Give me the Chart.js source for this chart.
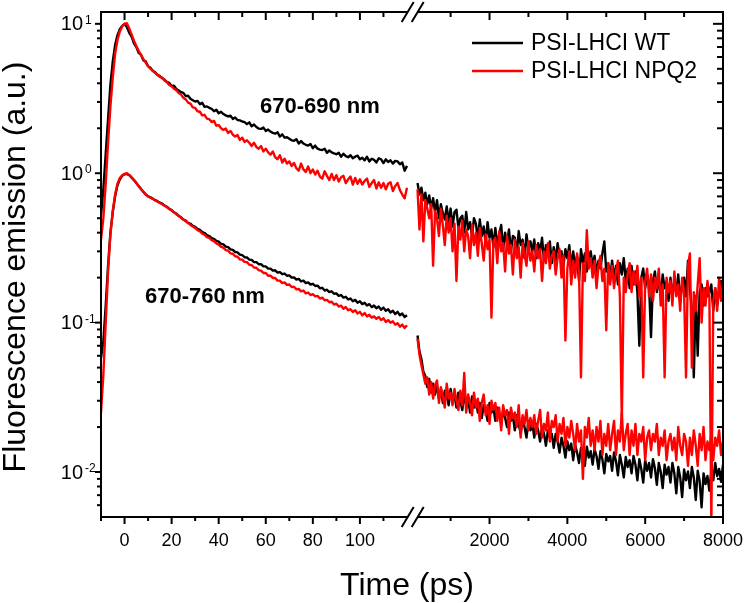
<!DOCTYPE html>
<html>
<head>
<meta charset="utf-8">
<script src="https://cdn.jsdelivr.net/npm/chart.js@4.4.0/dist/chart.umd.min.js"></script>
<style>
  html, body { margin: 0; padding: 0; background: #fff; }
  #wrap { width: 745px; height: 603px; }
</style>
</head>
<body>
<div id="wrap"><canvas id="decay" width="745" height="603"></canvas></div>
<script>
// ---- data ----
const seriesNames = ['PSI-LHCI WT', 'PSI-LHCI NPQ2'];
const bandLabels = ['670-690 nm', '670-760 nm'];

// early window (ps)
const timeLeft = [-10,-9,-8,-7,-6,-5,-4,-3,-2,-1,
  0,1,2,3,4,5,6,7,8,9,
  10,11,12,13,14,15,16,17,18,19,
  20,21,22,23,24,25,26,27,28,29,
  30,31,32,33,34,35,36,37,38,39,
  40,41,42,43,44,45,46,47,48,49,
  50,51,52,53,54,55,56,57,58,59,
  60,61,62,63,64,65,66,67,68,69,
  70,71,72,73,74,75,76,77,78,79,
  80,81,82,83,84,85,86,87,88,89,
  90,91,92,93,94,95,96,97,98,99,
  100,101,102,103,104,105,106,107,108,109,
  110,111,112,113,114,115,116,117,118,119,120];

// late window (ps)
const timeRight = [150,200,250,300,350,400,450,500,550,600,
  650,700,750,800,850,900,950,1000,1050,1100,
  1150,1200,1250,1300,1350,1400,1450,1500,1550,1600,
  1650,1700,1750,1800,1850,1900,1950,2000,2050,2100,
  2150,2200,2250,2300,2350,2400,2450,2500,2550,2600,
  2650,2700,2750,2800,2850,2900,2950,3000,3050,3100,
  3150,3200,3250,3300,3350,3400,3450,3500,3550,3600,
  3650,3700,3750,3800,3850,3900,3950,4000,4050,4100,
  4150,4200,4250,4300,4350,4400,4450,4500,4550,4600,
  4650,4700,4750,4800,4850,4900,4950,5000,5050,5100,
  5150,5200,5250,5300,5350,5400,5450,5500,5550,5600,
  5650,5700,5750,5800,5850,5900,5950,6000,6050,6100,
  6150,6200,6250,6300,6350,6400,6450,6500,6550,6600,
  6650,6700,6750,6800,6850,6900,6950,7000,7050,7100,
  7150,7200,7250,7300,7350,7400,7450,7500,7550,7600,
  7650,7700,7750,7800,7850,7900,7950,8000];

// 670-690 nm
const wtShortLeft = [0.52,0.78,1.35,2.3,3.9,5.6,7.2,8.4,9.2,9.7,
  10.0,9.5,8.7,8.2,7.4,7.0,6.4,6.2,5.7,5.6,
  5.2,5.08,4.84,4.74,4.55,4.47,4.34,4.22,4.08,4.02,
  3.84,3.85,3.66,3.58,3.49,3.45,3.28,3.3,3.15,3.08,
  3.02,3.05,2.9,2.96,2.78,2.8,2.74,2.7,2.6,2.66,
  2.52,2.58,2.49,2.44,2.4,2.43,2.31,2.36,2.27,2.26,
  2.22,2.2,2.13,2.19,2.06,2.12,2.04,1.99,1.98,2.02,
  1.92,1.96,1.9,1.86,1.84,1.88,1.76,1.82,1.73,1.74,
  1.7,1.66,1.65,1.69,1.58,1.64,1.58,1.55,1.53,1.57,
  1.47,1.53,1.46,1.44,1.43,1.46,1.37,1.42,1.38,1.36,
  1.34,1.37,1.29,1.35,1.3,1.28,1.32,1.26,1.29,1.31,
  1.24,1.27,1.22,1.29,1.2,1.25,1.23,1.18,1.26,1.24,
  1.17,1.24,1.19,1.22,1.16,1.21,1.2,1.15,1.18,1.04,1.12];
const npqShortLeft = [0.36,0.5,0.85,1.6,2.8,4.4,6.3,7.8,8.9,9.6,
  10.0,10.1,9.3,8.5,7.7,7.1,6.6,6.2,5.8,5.5,
  5.2,5.0,4.86,4.68,4.56,4.42,4.35,4.18,4.07,3.9,
  3.82,3.68,3.6,3.44,3.36,3.2,3.12,2.97,2.92,2.76,
  2.74,2.6,2.58,2.44,2.46,2.32,2.3,2.2,2.24,2.08,
  2.1,2.0,1.95,1.99,1.86,1.92,1.81,1.76,1.8,1.67,
  1.73,1.62,1.66,1.6,1.52,1.6,1.5,1.46,1.52,1.4,
  1.46,1.38,1.33,1.4,1.28,1.24,1.32,1.18,1.25,1.16,
  1.2,1.12,1.17,1.08,1.04,1.16,1.06,1.02,1.11,1.0,
  1.06,0.98,1.04,0.95,0.92,1.03,0.96,0.9,0.99,0.9,
  0.97,0.88,0.94,0.96,0.86,0.91,0.95,0.84,0.93,0.85,
  0.91,0.84,0.89,0.92,0.81,0.86,0.9,0.79,0.87,0.8,
  0.86,0.78,0.85,0.87,0.76,0.82,0.86,0.77,0.72,0.68,0.8];
const wtShortRight = [0.86,0.72,0.8,0.66,0.74,0.62,0.71,0.58,0.68,0.55,
  0.66,0.5,0.62,0.54,0.49,0.6,0.47,0.58,0.44,0.55,
  0.57,0.43,0.5,0.52,0.4,0.55,0.42,0.47,0.38,0.5,
  0.46,0.36,0.49,0.38,0.44,0.34,0.47,0.37,0.42,0.32,
  0.43,0.33,0.39,0.45,0.31,0.4,0.34,0.42,0.3,0.38,
  0.37,0.29,0.41,0.33,0.36,0.27,0.39,0.31,0.35,0.3,
  0.36,0.27,0.34,0.3,0.37,0.26,0.33,0.29,0.35,0.25,
  0.32,0.26,0.34,0.28,0.3,0.24,0.31,0.27,0.33,0.23,
  0.3,0.24,0.28,0.19,0.31,0.25,0.29,0.22,0.27,0.3,
  0.24,0.28,0.21,0.26,0.23,0.29,0.35,0.22,0.25,0.2,
  0.26,0.2,0.24,0.18,0.25,0.21,0.27,0.19,0.23,0.17,
  0.24,0.18,0.22,0.16,0.07,0.2,0.23,0.17,0.21,0.18,
  0.08,0.19,0.22,0.16,0.2,0.15,0.21,0.17,0.19,0.14,
  0.2,0.15,0.19,0.16,0.21,0.14,0.18,0.2,0.15,0.26,
  0.17,0.12,0.043,0.15,0.06,0.16,0.18,0.13,0.17,0.15,
  0.16,0.18,0.12,0.17,0.13,0.16,0.19,0.15];
const npqShortRight = [0.78,0.42,0.72,0.35,0.66,0.58,0.5,0.62,0.24,0.56,
  0.5,0.38,0.58,0.45,0.33,0.52,0.4,0.5,0.3,0.46,
  0.19,0.44,0.36,0.48,0.3,0.42,0.38,0.27,0.45,0.33,
  0.4,0.28,0.43,0.34,0.26,0.39,0.31,0.36,0.108,0.35,
  0.37,0.25,0.41,0.3,0.34,0.22,0.38,0.29,0.33,0.21,
  0.36,0.27,0.32,0.2,0.34,0.29,0.24,0.35,0.26,0.3,
  0.22,0.33,0.27,0.31,0.19,0.3,0.25,0.34,0.23,0.28,
  0.3,0.21,0.27,0.31,0.2,0.28,0.076,0.23,0.3,0.18,
  0.26,0.2,0.29,0.22,0.043,0.25,0.19,0.415,0.23,0.27,
  0.2,0.26,0.17,0.24,0.28,0.19,0.23,0.089,0.25,0.18,
  0.24,0.17,0.22,0.26,0.15,0.022,0.2,0.16,0.21,0.25,
  0.16,0.22,0.18,0.24,0.15,0.2,0.043,0.19,0.23,0.15,
  0.21,0.14,0.2,0.17,0.23,0.13,0.18,0.043,0.2,0.16,
  0.19,0.13,0.22,0.15,0.18,0.12,0.2,0.16,0.043,0.24,
  0.29,0.05,0.16,0.12,0.18,0.27,0.1,0.17,0.13,0.19,
  0.15,0.0045,0.14,0.17,0.12,0.2,0.14,0.18];

// 670-760 nm
const wtLongLeft = [0.058,0.075,0.13,0.24,0.4,0.55,0.7,0.83,0.91,0.96,
  0.985,0.99,0.97,0.935,0.9,0.86,0.82,0.785,0.75,0.72,
  0.7,0.69,0.676,0.66,0.65,0.635,0.625,0.608,0.597,0.578,
  0.567,0.548,0.537,0.518,0.507,0.49,0.482,0.466,0.459,0.444,
  0.438,0.424,0.418,0.404,0.398,0.385,0.38,0.368,0.364,0.352,
  0.348,0.337,0.334,0.323,0.32,0.309,0.307,0.297,0.295,0.285,
  0.283,0.274,0.273,0.264,0.263,0.254,0.254,0.246,0.246,0.238,
  0.238,0.23,0.23,0.223,0.224,0.216,0.218,0.211,0.213,0.206,
  0.207,0.2,0.201,0.194,0.196,0.189,0.191,0.184,0.186,0.18,
  0.182,0.176,0.177,0.17,0.171,0.164,0.166,0.16,0.162,0.156,
  0.157,0.151,0.153,0.147,0.149,0.143,0.145,0.139,0.142,0.136,
  0.139,0.133,0.136,0.13,0.133,0.127,0.13,0.125,0.128,0.122,
  0.126,0.12,0.123,0.117,0.12,0.114,0.118,0.112,0.115,0.109,0.112];
const npqLongLeft = [0.025,0.045,0.1,0.22,0.39,0.56,0.72,0.85,0.93,0.97,
  0.99,1.0,0.975,0.94,0.9,0.86,0.82,0.785,0.752,0.722,
  0.7,0.686,0.674,0.658,0.646,0.632,0.62,0.606,0.592,0.577,
  0.562,0.548,0.532,0.518,0.503,0.49,0.477,0.464,0.451,0.44,
  0.43,0.416,0.409,0.394,0.388,0.374,0.369,0.356,0.351,0.339,
  0.333,0.322,0.318,0.306,0.303,0.291,0.289,0.278,0.276,0.265,
  0.264,0.255,0.254,0.244,0.243,0.234,0.233,0.224,0.223,0.215,
  0.215,0.206,0.206,0.199,0.199,0.191,0.191,0.184,0.186,0.179,
  0.18,0.173,0.174,0.167,0.168,0.162,0.164,0.157,0.159,0.153,
  0.155,0.15,0.151,0.145,0.147,0.141,0.142,0.137,0.138,0.132,
  0.134,0.128,0.13,0.124,0.127,0.121,0.123,0.118,0.121,0.115,
  0.118,0.112,0.116,0.11,0.113,0.108,0.11,0.106,0.109,0.104,
  0.107,0.101,0.104,0.1,0.102,0.097,0.099,0.094,0.097,0.092,0.096];
const wtLongRight = [0.082,0.064,0.057,0.047,0.044,0.037,0.042,0.034,0.039,0.033,
  0.038,0.031,0.036,0.029,0.035,0.033,0.028,0.036,0.03,0.033,
  0.027,0.034,0.03,0.026,0.033,0.028,0.031,0.025,0.032,0.027,
  0.03,0.025,0.029,0.023,0.028,0.026,0.022,0.029,0.025,0.027,
  0.022,0.027,0.024,0.021,0.026,0.023,0.02,0.025,0.022,0.024,
  0.019,0.024,0.021,0.018,0.023,0.02,0.017,0.022,0.019,0.021,
  0.017,0.021,0.019,0.016,0.02,0.018,0.015,0.019,0.017,0.018,
  0.0145,0.018,0.016,0.0135,0.017,0.015,0.0125,0.016,0.014,0.0155,
  0.012,0.0152,0.0135,0.0115,0.0145,0.013,0.011,0.0148,0.0125,0.0138,
  0.0112,0.0142,0.0128,0.0105,0.0138,0.0122,0.0098,0.0132,0.0118,0.0128,
  0.0102,0.0135,0.0118,0.0095,0.013,0.0112,0.0092,0.0126,0.0108,0.012,
  0.0098,0.0128,0.0112,0.0088,0.0122,0.0105,0.0085,0.012,0.0102,0.0115,
  0.0092,0.0122,0.0106,0.0082,0.0115,0.01,0.0078,0.0112,0.0096,0.0108,
  0.0085,0.0115,0.0098,0.0072,0.0108,0.0092,0.0068,0.0104,0.0088,0.0101,
  0.0078,0.0108,0.0092,0.0065,0.0102,0.0087,0.0058,0.0098,0.0083,0.0094,
  0.0075,0.0102,0.0088,0.0115,0.0094,0.0105,0.0086,0.0112];
const npqLongRight = [0.078,0.061,0.052,0.045,0.039,0.043,0.033,0.04,0.031,0.038,
  0.041,0.029,0.037,0.032,0.027,0.039,0.031,0.034,0.028,0.036,
  0.03,0.026,0.035,0.028,0.046,0.025,0.033,0.029,0.024,0.034,
  0.027,0.031,0.022,0.029,0.033,0.024,0.028,0.021,0.03,0.026,
  0.029,0.022,0.027,0.019,0.028,0.024,0.026,0.018,0.027,0.023,
  0.025,0.02,0.028,0.017,0.024,0.021,0.026,0.019,0.023,0.02,
  0.024,0.018,0.022,0.026,0.017,0.021,0.019,0.025,0.016,0.022,
  0.02,0.024,0.016,0.021,0.018,0.023,0.015,0.02,0.017,0.022,
  0.018,0.014,0.021,0.016,0.019,0.009,0.02,0.017,0.023,0.015,
  0.019,0.014,0.02,0.016,0.022,0.013,0.018,0.015,0.021,0.014,
  0.018,0.022,0.013,0.019,0.016,0.025,0.014,0.018,0.021,0.013,
  0.019,0.015,0.021,0.013,0.018,0.016,0.02,0.012,0.017,0.019,
  0.014,0.018,0.016,0.021,0.013,0.017,0.015,0.019,0.012,0.016,
  0.018,0.014,0.017,0.012,0.02,0.015,0.013,0.018,0.016,0.011,
  0.017,0.013,0.019,0.015,0.011,0.018,0.014,0.02,0.012,0.016,
  0.014,0.018,0.012,0.017,0.015,0.019,0.013,0.016];

// axis ticks
const leftTicks = [-10,0,10,20,30,40,50,60,70,80,90,100,110];
const leftLabels = [0,20,40,60,80,100];
const rightTicks = [1000,2000,3000,4000,5000,6000,7000,8000];
const rightLabels = [2000,4000,6000,8000];
const yMajor = [0.01,0.1,1,10];
const yExponents = ['-2','-1','0','1'];
const yMinor = [0.006,0.007,0.008,0.009,0.02,0.03,0.04,0.05,0.06,0.07,0.08,0.09,
  0.2,0.3,0.4,0.5,0.6,0.7,0.8,0.9,2,3,4,5,6,7,8,9];

const FONT = "'Liberation Sans', Arial, sans-serif";
const BLACK = '#000000';
const RED = '#ff0000';

function series(times, values, color, axisId, order) {
  return {
    data: times.map((t, i) => ({ x: t, y: values[i] })),
    xAxisID: axisId,
    yAxisID: 'y',
    borderColor: color,
    borderWidth: 2.4,
    borderJoinStyle: 'round',
    pointRadius: 0,
    fill: false,
    tension: 0,
    order: order
  };
}

// frame, ticks, labels and legend drawn on top through the scales
const decorations = {
  id: 'decorations',
  afterDatasetsDraw(chart) {
    const { ctx, chartArea: a, scales } = chart;
    const xL = scales.xL, xR = scales.xR, y = scales.y;
    const brk = xL.right;
    const seg = (x1, y1, x2, y2) => {
      ctx.beginPath(); ctx.moveTo(x1, y1); ctx.lineTo(x2, y2); ctx.stroke();
    };
    ctx.save();
    ctx.strokeStyle = BLACK;
    ctx.fillStyle = BLACK;
    ctx.lineWidth = 2;

    // box with a break in the time axis
    seg(a.left, a.top - 1, a.left, a.bottom + 1);
    seg(a.right, a.top - 1, a.right, a.bottom + 1);
    const c1 = brk - 4, c2 = brk + 6;
    [a.top, a.bottom].forEach(yy => {
      seg(a.left, yy, c1, yy);
      seg(c2, yy, a.right, yy);
      seg(c1 - 6, yy + 10, c1 + 6, yy - 10);
      seg(c2 - 6, yy + 10, c2 + 6, yy - 10);
    });

    // time ticks: out at the bottom, in at the top
    const timeTick = (px, major) => {
      seg(px, a.bottom, px, a.bottom + (major ? 7 : 4));
      if (px > a.left + 1) seg(px, a.top, px, a.top + (major ? 8 : 5));
    };
    leftTicks.forEach(v => timeTick(xL.getPixelForValue(v), leftLabels.includes(v)));
    rightTicks.forEach(v => timeTick(xR.getPixelForValue(v), rightLabels.includes(v)));

    // intensity ticks: out on the left, in on the right
    yMajor.forEach(v => {
      const py = y.getPixelForValue(v);
      seg(a.left, py, a.left - 6, py);
      seg(a.right, py, a.right - 10, py);
    });
    yMinor.forEach(v => {
      const py = y.getPixelForValue(v);
      if (py < a.top + 1 || py > a.bottom - 1) return;
      seg(a.left, py, a.left - 4, py);
      seg(a.right, py, a.right - 6, py);
    });

    // tick labels
    ctx.font = '18px ' + FONT;
    ctx.textAlign = 'center';
    ctx.textBaseline = 'middle';
    leftLabels.forEach(v => ctx.fillText(String(v), xL.getPixelForValue(v), 541));
    rightLabels.forEach(v => ctx.fillText(String(v), xR.getPixelForValue(v), 541));

    yMajor.forEach((v, i) => {
      const py = y.getPixelForValue(v);
      ctx.font = '20px ' + FONT;
      ctx.textAlign = 'right';
      ctx.textBaseline = 'middle';
      ctx.fillText('10', 83, py + 1);
      ctx.font = '12px ' + FONT;
      ctx.textAlign = 'left';
      ctx.textBaseline = 'alphabetic';
      ctx.fillText(yExponents[i], 85, py);
    });

    // axis titles
    ctx.font = '32px ' + FONT;
    ctx.textAlign = 'center';
    ctx.textBaseline = 'alphabetic';
    ctx.fillText('Time (ps)', 407, 595);
    ctx.save();
    ctx.translate(16, 267);
    ctx.rotate(-Math.PI / 2);
    ctx.textBaseline = 'middle';
    ctx.fillText('Fluorescence emission (a.u.)', 0, 0);
    ctx.restore();

    // band annotations
    ctx.font = 'bold 22px ' + FONT;
    ctx.textAlign = 'left';
    ctx.textBaseline = 'middle';
    ctx.fillText(bandLabels[0], 260, 107);
    ctx.fillText(bandLabels[1], 145, 297);

    // legend
    ctx.font = '23px ' + FONT;
    ctx.lineWidth = 2.5;
    [BLACK, RED].forEach((col, i) => {
      const ly = 43 + i * 28;
      ctx.strokeStyle = col;
      seg(472, ly, 523, ly);
      ctx.fillStyle = BLACK;
      ctx.fillText(seriesNames[i], 531, ly + 1);
    });
    ctx.restore();
  }
};

new Chart(document.getElementById('decay'), {
  type: 'line',
  data: {
    datasets: [
      series(timeLeft, wtShortLeft, BLACK, 'xL', 2),
      series(timeLeft, npqShortLeft, RED, 'xL', 1),
      series(timeLeft, wtLongLeft, BLACK, 'xL', 2),
      series(timeLeft, npqLongLeft, RED, 'xL', 1),
      series(timeRight, wtShortRight, BLACK, 'xR', 2),
      series(timeRight, npqShortRight, RED, 'xR', 1),
      series(timeRight, wtLongRight, BLACK, 'xR', 2),
      series(timeRight, npqLongRight, RED, 'xR', 1)
    ]
  },
  options: {
    responsive: false,
    devicePixelRatio: 1,
    animation: false,
    layout: { padding: { left: 0, right: 22, top: 12, bottom: 0 } },
    plugins: { legend: { display: false }, tooltip: { enabled: false } },
    events: [],
    scales: {
      xL: {
        axis: 'x', type: 'linear', position: 'bottom', min: -10, max: 122,
        stack: 'time', stackWeight: 310.7,
        ticks: { display: false }, grid: { display: false }, border: { display: false },
        afterFit: s => { s.height = 86; }
      },
      xR: {
        axis: 'x', type: 'linear', position: 'bottom', min: 0, max: 8000,
        stack: 'time', stackWeight: 311.3,
        ticks: { display: false }, grid: { display: false }, border: { display: false },
        afterFit: s => { s.height = 86; }
      },
      y: {
        type: 'logarithmic', position: 'left', min: 0.005, max: 12,
        ticks: { display: false }, grid: { display: false }, border: { display: false },
        afterFit: s => { s.width = 101; }
      }
    }
  },
  plugins: [decorations]
});
</script>
</body>
</html>
